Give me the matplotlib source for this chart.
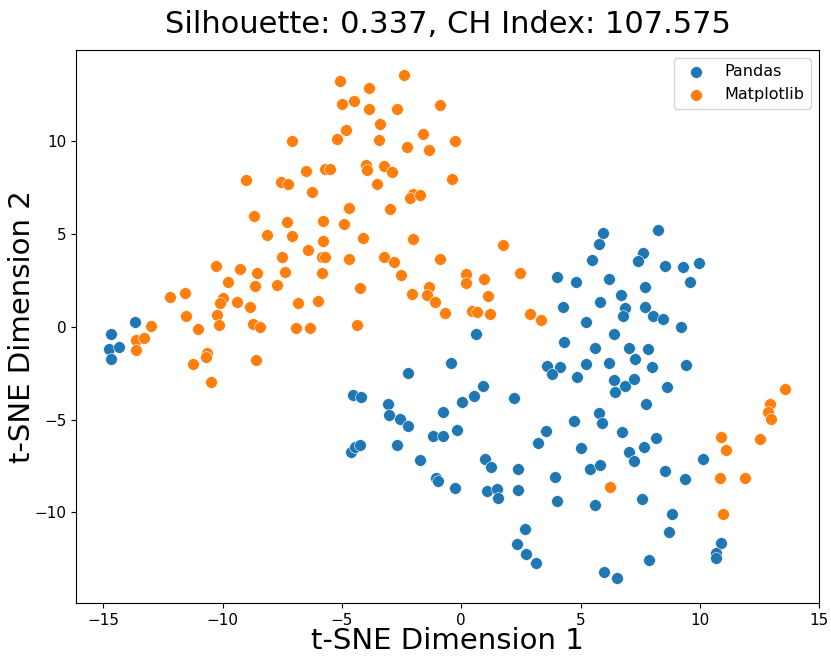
import numpy as np
import matplotlib
matplotlib.use("Agg")
import matplotlib.pyplot as plt

# t-SNE coordinates
pandas_x = [-13.66, -14.70, -14.75, -14.35, -14.69,
            4.01, 4.27, 0.60, 4.30, -0.42, 3.59, 4.13, 3.79, -2.23, -4.52, -4.19,
            0.91, 0.52, 2.22, -3.08, -3.02, -2.57, -2.22, 0.02, -0.77, -0.19,
            -1.20, -0.75, -4.63, -4.45, -4.23, -2.68, -1.72, -1.05, -0.98, -0.28,
            3.54, 3.21, 1.01, 1.23, 2.39, 3.95, 1.06, 1.50, 1.52, 2.39, 4.01,
            4.71, 2.66, 2.32, 2.72, 3.13,
            5.95, 5.78, 8.25, 5.48, 7.62, 7.42, 8.53, 9.28, 9.97, 9.58, 4.81,
            6.18, 6.70, 5.82, 7.70, 7.70, 6.86, 6.79, 8.04, 8.44, 5.25, 9.23,
            6.40, 5.60, 7.05, 7.82, 5.25, 6.20, 7.29, 8.00, 9.43, 4.85, 6.40,
            6.44, 6.85, 7.26, 8.63,
            7.73, 5.76, 5.92, 6.72, 8.16, 5.03, 7.65, 7.03, 7.25, 5.38, 5.80,
            8.56, 9.37, 10.14, 5.59, 7.57, 8.83, 8.69, 10.88, 10.66, 10.70,
            7.89, 5.99, 6.54]
pandas_y = [0.25, -0.39, -1.22, -1.11, -1.72,
            2.66, 1.04, -0.39, -0.81, -1.95, -2.10, -2.15, -2.55, -2.49, -3.69, -3.79,
            -3.18, -3.73, -3.84, -4.15, -4.75, -4.99, -5.35, -4.04, -4.59, -5.58,
            -5.90, -5.87, -6.76, -6.49, -6.37, -6.39, -7.16, -8.15, -8.31, -8.69,
            -5.62, -6.28, -7.11, -7.56, -7.68, -8.08, -8.83, -8.72, -9.22, -8.81, -9.40,
            -5.06, -10.89, -11.72, -12.26, -12.72,
            5.05, 4.45, 5.19, 3.59, 3.95, 3.54, 3.28, 3.23, 3.41, 2.39, 2.41,
            2.57, 1.72, 1.33, 2.15, 1.08, 0.99, 0.58, 0.59, 0.41, 0.27, -0.03,
            -0.39, -1.13, -1.13, -1.20, -2.01, -1.95, -1.76, -2.17, -2.05, -2.71, -2.87,
            -3.52, -3.19, -2.82, -3.23,
            -4.16, -4.66, -5.20, -5.67, -5.98, -6.55, -6.46, -6.73, -7.23, -7.66, -7.43,
            -7.77, -8.19, -7.11, -9.60, -9.26, -10.09, -11.06, -11.65, -12.20, -12.44,
            -12.58, -13.19, -13.52]

mpl_x = [-7.11, -6.49, -5.71, -5.50, -9.01, -7.57, -7.27, -6.25, -8.70, -7.30,
         -5.80, -8.14, -7.08, -5.80, -6.42, -7.51, -5.85, -5.71, -10.28, -9.26,
         -8.57, -7.40, -5.85, -9.79, -8.66, -7.71, -12.19, -11.58, -9.98, -10.10,
         -9.40, -8.84, -6.83, -5.99, -11.52, -10.26, -10.16, -13.01, -11.04, -8.71,
         -8.42, -6.91, -6.35,
         -13.63, -13.29, -13.64, -11.23, -10.64, -10.70, -10.49, -8.60,
         -2.39, -5.08, -3.88, -4.99, -4.51, -3.88, -2.71, -0.90, -3.41, -4.82,
         -5.19, -3.45, -1.62, -2.27, -1.34, -0.28, -4.00, -3.96, -3.25, -2.89,
         -3.52, -0.40, -2.01, -2.14, -1.72, -4.69, -2.99, -4.91, -4.13, -2.01,
         1.73, -4.69, -3.25, -2.82, -0.88, -2.51, 0.20, 0.20, 0.94, 2.46,
         -4.24, -2.08, -1.37, -1.45, -1.09, 1.13, -0.68, 0.45, 0.65, 1.19,
         2.89, 3.34, -4.36,
         13.56, 12.95, 12.84, 12.97, 10.91, 11.12, 12.54, 10.85, 11.89, 10.98, 6.24]
mpl_y = [10.02, 8.38, 8.49, 8.49, 7.88, 7.78, 7.68, 7.27, 5.94, 5.65,
         5.67, 4.92, 4.88, 4.61, 4.15, 3.75, 3.74, 3.74, 3.28, 3.12,
         2.89, 2.96, 2.91, 2.42, 2.19, 2.25, 1.58, 1.81, 1.55, 1.26,
         1.35, 1.04, 1.28, 1.37, 0.58, 0.65, 0.11, 0.04, -0.11, 0.15,
         0.00, -0.05, -0.05,
         -0.72, -0.63, -1.24, -2.02, -1.42, -1.65, -2.98, -1.79,
         13.55, 13.21, 12.85, 11.99, 12.15, 11.74, 11.74, 11.94, 10.92, 10.59,
         10.11, 10.04, 10.39, 9.66, 9.52, 10.02, 8.71, 8.44, 8.64, 8.31,
         7.70, 7.94, 7.13, 6.91, 7.08, 6.38, 6.34, 5.55, 4.78, 4.72,
         4.40, 3.65, 3.77, 3.47, 3.65, 2.78, 2.82, 2.35, 2.57, 2.88,
         2.10, 1.76, 2.14, 1.69, 1.35, 1.65, 0.74, 0.86, 0.81, 0.68,
         0.70, 0.36, 0.08,
         -3.35, -4.16, -4.58, -4.95, -5.96, -6.66, -6.06, -8.15, -8.15, -10.07, -8.65]

silhouette = 0.337
ch_index = 107.575

fig = plt.figure(figsize=(8.31, 6.58), dpi=100)
ax = fig.add_axes([0.0915, 0.0831, 0.8941, 0.8409])

ax.scatter(pandas_x, pandas_y, s=72, c='#1f77b4', edgecolors='white',
           linewidths=0.4, label='Pandas')
ax.scatter(mpl_x, mpl_y, s=72, c='#ff7f0e', edgecolors='white',
           linewidths=0.4, label='Matplotlib')

ax.set_xlim(-16.15, 15)
ax.set_ylim(-14.9, 14.9)
ax.set_xticks([-15, -10, -5, 0, 5, 10, 15])
ax.set_yticks([-10, -5, 0, 5, 10])
ax.tick_params(labelsize=11)

ax.set_xlabel('t-SNE Dimension 1', fontsize=21, labelpad=-0.5)
ax.set_ylabel('t-SNE Dimension 2', fontsize=21, labelpad=-1.5)
ax.set_title('Silhouette: %.3f, CH Index: %.3f' % (silhouette, ch_index),
             fontsize=22, pad=12)
ax.legend(loc='upper right', fontsize=11.5)

fig.savefig('out.png', dpi=100)
